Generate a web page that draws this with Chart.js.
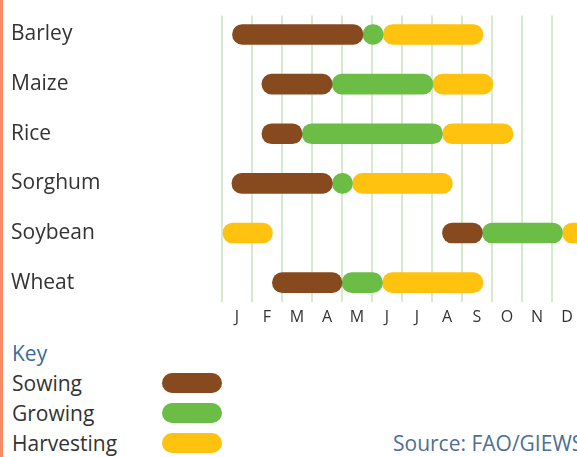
<!DOCTYPE html>
<html>
<head>
<meta charset="utf-8">
<script src="https://cdn.jsdelivr.net/npm/chart.js@4/dist/chart.umd.min.js"></script>
<style>
  body { margin: 0; overflow: hidden; background: #fff; font-family: "Open Sans", sans-serif; }
  #wrap { position: relative; width: 600px; height: 457px; }
  #edge { position: absolute; left: 0; top: 0; width: 3px; height: 457px; background: #f58a65; }
  #chartBox { position: absolute; left: 0; top: 0; width: 600px; height: 330px; }
  .txt { position: absolute; font-size: 21px; line-height: 21px; white-space: nowrap; color: #333; }
  .swatch { position: absolute; left: 162px; width: 60px; height: 20px; border-radius: 10px; }
  #key { left: 12px; top: 343px; color: #3b6c9c; }
  #source { left: 393px; top: 433px; color: #4d6f94; }
</style>
</head>
<body>
<div id="wrap">
  <div id="chartBox"><canvas id="calendar"></canvas></div>
  <div id="edge"></div>
  <div class="txt" id="key">Key</div>
  <div id="legend"></div>
  <div class="txt" id="source">Source: FAO/GIEWS</div>
</div>
<script>
const crops = ["Barley", "Maize", "Rice", "Sorghum", "Soybean", "Wheat"];
const months = ["J", "F", "M", "A", "M", "J", "J", "A", "S", "O", "N", "D"];

// [start, end] in months from the start of January, one entry per crop
const sowing = [[0.35, 4.7], [1.33, 3.67], [1.33, 2.67], [0.33, 3.68], [7.35, 8.68], [1.68, 4.0]];
const growing = [[4.7, 5.37], [3.67, 7.03], [2.67, 7.35], [3.68, 4.35], [8.68, 11.35], [4.0, 5.35]];
const harvesting = [[5.37, 8.7], [7.03, 9.03], [7.35, 9.7], [4.35, 7.68], [0, 1.68], [5.35, 8.7]];
// soybean harvest runs over the year end
const harvestingLate = [null, null, null, null, [11.35, 12.4], null];

const phases = [
  { label: "Sowing", color: "#874a1f", spans: [sowing] },
  { label: "Growing", color: "#6bbd45", spans: [growing] },
  { label: "Harvesting", color: "#ffc20e", spans: [harvesting, harvestingLate] }
];

function toPoints(spans) {
  const pts = [];
  spans.forEach(list => {
    list.forEach((r, i) => { if (r) pts.push({ x: r, y: i }); });
  });
  return pts;
}

const datasets = phases.map(p => ({
  label: p.label,
  data: toPoints(p.spans),
  backgroundColor: p.color,
  borderWidth: 0,
  borderRadius: 10,
  borderSkipped: false,
  barThickness: 20,
  grouped: false
}));

new Chart(document.getElementById("calendar"), {
  type: "bar",
  data: { datasets },
  options: {
    indexAxis: "y",
    responsive: true,
    maintainAspectRatio: false,
    animation: false,
    layout: { padding: { left: 11, top: 13, right: 18, bottom: 0 } },
    plugins: { legend: { display: false }, tooltip: { enabled: false } },
    scales: {
      x: {
        type: "linear",
        min: 0,
        max: 12,
        offset: false,
        z: 1,
        border: { display: false },
        grid: { color: "rgba(120, 190, 90, 0.3)", lineWidth: 2, drawTicks: false },
        afterBuildTicks: s => { s.ticks = months.map((m, i) => ({ value: i })).concat([{ value: 12 }]); },
        afterFit: s => { s.height = 28; },
        ticks: {
          callback: v => months[v] || "",
          labelOffset: 15,
          padding: 6,
          autoSkip: false,
          maxRotation: 0,
          color: "#333",
          font: { family: "Open Sans", size: 16 }
        }
      },
      y: {
        type: "linear",
        reverse: true,
        min: -0.38,
        max: 5.39,
        offset: false,
        border: { display: false },
        grid: { display: false, drawTicks: false },
        afterBuildTicks: s => { s.ticks = crops.map((c, i) => ({ value: i })); },
        afterFit: s => { s.width = 211; },
        ticks: {
          callback: v => crops[v],
          crossAlign: "far",
          color: "#333",
          font: { family: "Open Sans", size: 21 }
        }
      }
    }
  }
});

// key rows built from the same phase colours
const legend = document.getElementById("legend");
phases.forEach((p, i) => {
  const top = 373 + i * 30;
  const t = document.createElement("div");
  t.className = "txt";
  t.style.left = "12px";
  t.style.top = top + "px";
  t.textContent = p.label;
  legend.appendChild(t);
  const s = document.createElement("div");
  s.className = "swatch";
  s.style.top = top + "px";
  s.style.background = p.color;
  legend.appendChild(s);
});
</script>
</body>
</html>
